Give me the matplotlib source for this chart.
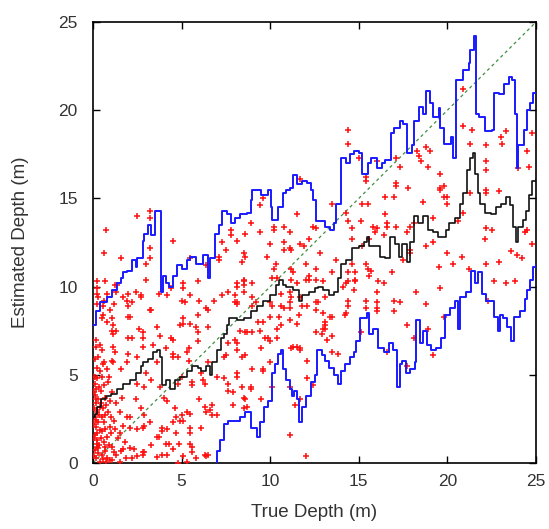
import matplotlib
matplotlib.use('Agg')
import matplotlib.pyplot as plt

# --- step curves (x, y) ---
upper_x = [0, 0.15, 0.4, 0.8, 1.1, 1.35, 1.6, 1.7, 1.9, 2.2, 2.4, 2.5, 2.8, 2.9, 3.1, 3.3, 3.5, 3.84,
           3.95, 4.1, 4.3, 4.5, 4.74, 5.0, 5.3, 5.47, 5.8, 6.2, 6.5, 6.6, 6.9, 7.1, 7.3, 7.55, 7.8, 8.0,
           8.3, 8.7, 8.9, 9.0, 9.5, 9.9, 10.05, 10.1, 10.45, 10.7, 10.9, 11.1, 11.3, 11.5, 11.8, 12.1,
           12.3, 12.4, 12.6, 13.1, 13.4, 13.6, 13.7, 14.0, 14.3, 14.5, 14.7, 15.0, 15.2, 15.5, 15.7,
           16.0, 16.3, 16.5, 16.8, 17.0, 17.3, 17.5, 17.7, 18.0, 18.1, 18.4, 18.6, 18.8, 19.0, 19.2,
           19.5, 19.6, 19.8, 20.2, 20.3, 20.5, 20.9, 21.2, 21.3, 21.5, 21.6, 21.8, 22.1, 22.5, 22.6,
           22.9, 23.2, 23.45, 23.65, 23.8, 23.9, 24.0, 24.3, 24.5, 24.65, 24.85, 25.0]
upper_y = [7.8, 8.6, 9.1, 9.4, 9.8, 10.2, 10.5, 10.8, 10.9, 11.5, 11.1, 11.6, 12.6, 13.0, 13.5, 12.9, 14.3, 9.7,
           10.6, 10.2, 10.0, 10.6, 11.2, 11.0, 11.5, 11.7, 11.3, 11.8, 10.5, 11.6, 13.0, 13.5, 14.3, 14.1, 13.6, 13.9,
           14.1, 14.2, 14.9, 15.5, 15.2, 15.5, 14.5, 13.8, 14.5, 15.3, 15.5, 15.6, 16.3, 15.8, 16.0, 15.9,
           15.5, 14.9, 13.7, 13.4, 13.2, 13.6, 14.7, 17.3, 17.0, 17.5, 17.7, 17.6, 16.4, 17.0, 17.3,
           16.7, 17.0, 17.2, 18.7, 19.0, 19.4, 19.2, 17.6, 18.0, 19.4, 20.2, 19.8, 21.1, 20.4, 19.6,
           20.1, 19.0, 18.1, 18.5, 17.3, 21.7, 22.3, 22.7, 23.4, 24.2, 19.8, 19.6, 18.8, 18.9, 21.0,
           20.9, 21.5, 21.9, 21.7, 19.8, 16.7, 18.0, 18.9, 20.0, 20.4, 21.0, 21.0]

lower_x = [6.98, 7.02, 7.15, 7.4, 7.6, 8.3, 8.6, 8.9, 9.25, 9.4, 9.65, 9.9, 10.1, 10.25, 10.45, 10.6,
           10.7, 10.9, 11.1, 11.25, 11.35, 11.5, 11.65, 11.8, 12.0, 12.3, 12.5, 12.65, 12.9, 13.1, 13.3,
           13.6, 13.85, 14.0, 14.2, 14.5, 14.7, 14.85, 15.05, 15.45, 15.6, 15.8, 16.1, 16.4, 16.7,
           16.95, 17.15, 17.3, 17.45, 17.65, 17.9, 18.15, 18.25, 18.45, 18.6, 18.85, 19.1, 19.35,
           19.65, 19.85, 20.15, 20.45, 20.6, 20.7, 21.05, 21.35, 21.55, 21.7, 21.95, 22.15, 22.6,
           22.85, 22.95, 23.15, 23.35, 23.6, 23.75, 24.1, 24.35, 24.5, 24.65, 24.85, 25.0]
lower_y = [0.0, 0.7, 1.3, 2.2, 2.4, 2.6, 2.9, 2.0, 1.5, 2.3, 3.2, 3.5, 5.1, 5.6, 6.2, 6.4,
           5.3, 4.7, 4.2, 3.8, 4.1, 3.6, 2.3, 3.2, 3.8, 4.6, 5.0, 6.4, 6.1, 5.8, 5.4,
           5.0, 4.5, 5.2, 5.6, 6.0, 6.3, 6.9, 8.2, 8.5, 7.3, 7.6, 6.5, 6.3, 6.8,
           6.4, 4.3, 5.6, 5.8, 5.1, 5.3, 5.7, 8.1, 6.8, 7.5, 6.7, 6.4, 6.5,
           7.1, 8.4, 8.8, 9.2, 7.6, 9.4, 9.7, 10.9, 10.2, 10.8, 9.6, 9.2, 8.3,
           7.5, 8.4, 8.2, 7.7, 6.9, 8.3, 8.6, 9.3, 9.8, 10.4, 11.1, 11.2]

median_x = [0.0, 0.1, 0.2, 0.45, 0.75, 1.0, 1.35, 1.7, 2.1, 2.4, 2.7, 2.8, 3.1, 3.4, 3.6, 3.8, 3.9,
            4.1, 4.35, 4.6, 4.9, 5.3, 5.6, 5.9, 6.1, 6.4, 6.6, 6.7, 7.0, 7.2, 7.4, 7.55, 7.7, 8.1,
            8.5, 8.9, 9.25, 9.6, 10.0, 10.3, 10.5, 10.7, 10.9, 11.3, 11.6, 11.8, 12.2, 12.5, 12.7,
            13.0, 13.3, 13.6, 13.8, 14.0, 14.3, 14.6, 15.0, 15.3, 15.45, 15.6, 16.0, 16.2, 16.5,
            16.75, 17.05, 17.25, 17.45, 17.7, 17.9, 18.1, 18.35, 18.6, 18.9, 19.2, 19.45, 19.9,
            20.1, 20.4, 20.7, 20.9, 21.1, 21.3, 21.45, 21.55, 21.7, 21.85, 22.1, 22.45, 22.75,
            23.0, 23.3, 23.55, 23.7, 23.85, 24.0, 24.25, 24.45, 24.6, 24.75, 25.0]
median_y = [2.6, 2.8, 3.2, 3.6, 3.8, 3.9, 4.2, 4.5, 4.7, 5.1, 5.5, 5.7, 5.9, 6.3, 6.4, 6.0, 4.4,
            4.7, 4.2, 4.7, 4.9, 5.2, 5.5, 5.4, 5.2, 5.5, 5.0, 5.7, 6.4, 7.1, 7.3, 7.8, 8.2, 8.1,
            8.2, 8.6, 8.9, 9.2, 9.5, 10.1, 10.4, 10.1, 10.0, 9.8, 9.2, 9.5, 9.7, 9.9, 10.0,
            9.8, 9.5, 9.7, 10.5, 11.3, 11.5, 12.2, 12.3, 12.5, 12.8, 12.3, 12.3, 11.7, 11.6,
            12.8, 12.4, 11.7, 12.4, 11.4, 12.5, 14.0, 13.6, 14.0, 13.2, 13.1, 12.8, 13.2,
            13.6, 13.9, 14.7, 15.3, 16.6, 17.3, 17.6, 16.4, 15.3, 14.7, 14.2, 14.1, 14.5,
            14.7, 15.1, 14.6, 13.4, 12.5, 13.4, 13.8, 14.3, 15.2, 16.0, 16.1]

# --- individual estimates (red crosses), grouped by region ---
near_origin = [
    (0.11, 4.5), (0.17, 4.2), (0.11, 3.85), (0.3, 3.65), (0.17, 3.4), (0.4, 3.2), (0.21, 2.9),
    (0.11, 2.6), (0.3, 2.35), (0.17, 2.05), (0.4, 1.87), (0.11, 1.6), (0.21, 1.3), (0.36, 1.0),
    (0.11, 0.74), (0.3, 0.55), (0.17, 0.27), (0.4, 0.07), (0.6, 4.4), (0.7, 3.7), (0.55, 3.1),
    (0.85, 2.9), (0.64, 2.35), (0.94, 2.05), (0.5, 1.8), (0.8, 1.5), (0.6, 1.2), (0.9, 1.0),
    (0.7, 0.7), (0.5, 0.45), (0.8, 0.3), (0.94, 0.15), (0.75, 0.05), (1.1, 4.0), (1.3, 3.4),
    (1.5, 2.9), (1.2, 2.4), (1.7, 2.1), (1.0, 1.7), (1.4, 1.4), (1.8, 1.2), (1.1, 0.9),
    (1.6, 0.7), (1.3, 0.45), (1.88, 0.3), (1.1, 0.15), (1.5, 0.05), (0.05, 4.9), (0.05, 4.0),
    (0.05, 3.1), (0.05, 2.2), (0.05, 1.4), (0.05, 0.4), (0.25, 4.8), (0.45, 4.1), (0.25, 3.0),
    (0.5, 2.6), (0.25, 1.7), (0.45, 1.4), (0.25, 0.9), (0.55, 0.2), (0.35, 2.7), (0.65, 2.7),
    (0.75, 3.3), (0.35, 4.3), (0.95, 3.5), (0.15, 3.6), (0.2, 1.1), (0.65, 0.9), (1.0, 2.6),
    (1.25, 1.9), (1.65, 3.7), (1.9, 2.6), (2.1, 2.0), (1.2, 0.6), (0.85, 4.6), (0.55, 5.6),
    (0.12, 5.9), (0.3, 0.85), (0.15, 2.45), (0.45, 3.4), (0.7, 1.95), (1.55, 1.7), (2.2, 0.3),
]
low_points = [
    (2.4, 3.6), (2.7, 3.1), (2.1, 2.6), (2.9, 2.7), (3.2, 2.3), (2.5, 1.9), (3.6, 1.5), (2.1, 0.85),
    (2.8, 0.6), (3.6, 0.35), (4.1, 1.1), (4.2, 1.9), (4.7, 1.7), (5.0, 2.7), (5.1, 2.4), (4.5, 2.3),
    (5.5, 1.1), (5.6, 0.6), (6.3, 0.45), (5.3, 0.05), (6.1, 2.0), (3.3, 1.0), (4.5, 0.8), (4.85, 1.1),
    (5.1, 0.4), (5.8, 0.3), (6.4, 0.4), (4.8, 0.0), (2.8, 0.45), (2.5, 0.4), (1.7, 0.8), (2.3, 0.8),
    (5.5, 2.8), (4.7, 2.6), (4.9, 2.4), (6.3, 3.2), (6.6, 3.0), (7.0, 2.7), (5.5, 2.0), (5.5, 1.7),
    (3.9, 2.0), (3.9, 1.8), (2.8, 2.0), (2.9, 2.1), (3.7, 1.5), (4.3, 1.1), (5.6, 0.9), (4.2, 0.45),
    (3.9, 0.45), (6.5, 0.45), (2.9, 0.6), (11.1, 1.6), (12.0, 0.4), (6.7, 3.3), (6.7, 2.7), (6.4, 2.9),
    (6.0, 3.6), (5.6, 4.6), (5.6, 4.4), (5.0, 4.9), (4.8, 4.5), (4.0, 3.7), (4.2, 3.5), (4.6, 3.1),
    (5.3, 2.9), (3.3, 4.7), (3.8, 4.3), (2.9, 4.3), (2.5, 4.5), (7.9, 3.3), (7.6, 4.1), (7.0, 4.9),
    (6.3, 4.5), (7.4, 4.8), (7.6, 4.5), (8.9, 4.3), (7.9, 4.0), (8.4, 4.3), (8.5, 3.7), (9.6, 5.3),
    (10.1, 4.3), (11.1, 4.3), (12.1, 4.8), (12.4, 4.4), (11.4, 3.3), (8.9, 4.2), (8.6, 3.6), (9.5, 3.6),
    (8.7, 3.2), (8.5, 3.1), (11.7, 3.6),
]
mid_points = [
    (0.6, 9.2), (0.55, 8.9), (0.95, 8.7), (0.55, 8.4), (0.5, 8.2), (0.8, 8.0), (1.1, 8.2), (1.15, 7.8),
    (1.1, 7.5), (1.3, 7.5), (1.15, 7.3), (2.0, 8.3), (2.2, 7.1), (2.6, 7.6), (3.3, 8.7), (3.6, 7.7),
    (4.4, 7.1), (4.5, 7.0), (3.8, 7.2), (5.1, 8.2), (5.1, 7.9), (5.0, 9.2), (5.8, 7.7), (5.9, 7.4),
    (5.9, 6.9), (5.3, 6.3), (6.5, 8.7), (6.5, 7.7), (6.0, 9.2), (2.0, 7.1), (0.17, 7.0), (0.17, 6.6),
    (0.4, 6.7), (0.5, 6.4), (0.3, 6.0), (0.6, 5.7), (0.2, 5.4), (0.4, 5.2), (0.5, 4.9), (0.1, 4.9),
    (0.8, 5.3), (0.9, 4.9), (1.15, 6.6), (1.25, 6.3), (1.1, 5.8), (1.15, 5.7), (1.6, 5.3), (1.9, 5.7),
    (2.0, 6.2), (2.5, 6.0), (2.8, 6.6), (3.4, 6.7), (4.1, 6.5), (4.5, 6.2), (4.5, 6.0), (4.8, 6.0),
    (3.6, 5.7), (3.0, 5.1), (5.4, 6.5), (5.4, 5.8), (6.5, 5.7), (6.1, 5.1), (6.2, 4.7), (7.4, 6.0),
    (7.5, 6.1), (8.1, 6.4), (8.1, 5.1), (8.1, 4.9), (9.7, 7.1), (8.0, 7.0), (8.7, 7.4), (9.4, 7.5),
    (10.4, 7.1), (11.3, 6.6), (12.6, 7.4), (2.8, 7.4), (2.8, 7.1), (2.1, 8.3), (4.9, 7.8), (5.5, 7.9),
    (5.9, 8.4), (7.6, 6.8), (8.1, 6.8), (9.0, 8.9), (9.2, 9.1), (11.1, 9.1), (11.1, 8.8), (12.7, 9.1),
    (13.4, 8.3), (14.2, 8.4), (15.4, 8.8), (10.0, 8.3), (10.5, 8.3), (9.3, 8.0), (9.6, 8.0),
    (10.6, 7.8), (10.4, 7.6), (11.1, 8.1), (11.5, 7.9), (11.6, 8.4), (8.3, 7.5), (8.6, 7.4),
    (9.0, 7.4), (13.1, 8.0), (13.1, 7.6), (9.9, 7.1), (10.0, 6.9), (9.5, 6.5), (8.4, 6.0), (8.6, 6.1),
    (11.2, 6.5), (11.5, 6.6), (11.7, 6.4), (10.0, 5.7), (9.0, 5.3), (9.6, 5.2), (15.1, 7.4),
    (11.7, 9.4), (11.8, 8.9), (12.1, 8.9), (12.6, 9.1), (12.6, 8.7), (13.0, 8.5), (14.4, 9.2),
    (14.4, 8.9), (14.3, 8.5), (15.4, 9.2), (16.0, 9.1), (16.0, 8.8), (16.0, 8.6), (13.1, 7.8),
    (13.0, 7.6), (13.5, 8.3), (12.9, 7.3), (13.5, 7.2), (13.2, 7.0), (13.5, 6.3), (13.8, 6.2),
    (11.7, 6.5), (12.1, 5.8), (0.2, 10.3), (1.25, 10.1), (1.3, 9.7), (1.7, 9.4), (2.0, 9.6),
    (2.4, 9.7), (2.7, 9.5), (2.7, 9.4), (1.9, 9.2), (2.2, 9.1), (2.0, 8.9), (1.2, 9.0), (4.2, 9.5),
    (5.1, 10.2), (5.1, 9.9), (5.2, 9.1), (6.8, 9.2), (7.3, 9.5), (7.6, 9.7), (8.1, 9.1), (6.4, 8.8),
    (3.2, 8.7), (0.3, 9.4), (0.2, 9.0), (3.7, 9.6), (4.4, 9.9), (5.5, 9.5), (8.0, 9.5), (8.0, 9.1),
    (8.1, 9.0), (10.1, 8.9), (10.6, 8.9), (10.8, 8.8), (0.2, 9.9), (0.2, 9.6), (0.8, 9.6),
]
high_points = [
    (0.73, 13.2), (2.5, 14.0), (3.2, 14.3), (3.2, 13.9), (9.4, 14.6), (9.6, 15.0), (8.9, 13.6),
    (7.8, 13.2), (7.8, 12.9), (9.4, 13.1), (10.2, 13.4), (10.2, 13.2), (10.8, 13.4), (11.1, 13.1),
    (11.5, 14.1), (11.7, 16.1), (12.4, 13.4), (12.6, 13.3), (12.2, 12.7), (8.6, 13.0),
    (0.6, 11.9), (4.5, 12.6), (3.2, 12.2), (1.6, 11.6), (3.2, 11.6), (3.0, 11.3), (7.3, 12.5),
    (7.5, 12.1), (8.1, 12.6), (7.1, 11.7), (7.1, 11.5), (5.5, 11.6), (0.7, 10.3), (3.0, 10.4),
    (5.9, 10.3), (6.4, 11.2), (8.1, 10.2), (8.1, 10.0), (1.35, 10.1), (8.5, 11.9), (8.4, 11.4),
    (10.0, 12.4), (10.8, 12.5), (11.1, 12.2), (8.5, 10.3), (9.0, 10.2), (11.2, 10.4), (11.5, 10.2),
    (12.2, 10.4), (8.6, 11.7), (9.8, 11.7), (10.8, 12.1), (11.2, 12.1), (11.7, 12.4), (10.3, 11.3),
    (10.2, 11.0), (10.4, 10.5), (11.2, 11.0), (11.3, 10.8), (12.2, 10.6), (13.7, 11.5), (14.6, 11.3),
    (15.7, 10.9), (8.5, 10.4), (8.5, 10.1), (8.5, 9.7), (10.1, 10.5), (12.0, 10.4), (12.6, 10.4),
    (13.0, 10.3), (14.3, 10.2), (14.8, 10.3), (11.2, 9.4), (13.1, 9.4), (10.6, 9.6), (10.0, 9.1),
    (9.0, 9.4), (11.1, 9.7),
    (11.9, 12.3), (12.8, 11.9), (12.0, 11.3), (12.6, 11.0), (14.6, 12.7), (15.6, 12.7), (15.2, 12.3),
    (13.5, 10.8), (14.4, 10.8), (14.8, 10.8), (14.8, 10.4), (14.4, 10.3), (15.5, 11.0), (15.6, 10.6),
    (15.4, 11.3), (16.1, 10.3), (16.4, 10.2), (14.1, 10.0), (14.7, 9.8), (16.0, 9.7), (14.3, 14.2),
    (15.4, 16.2), (15.8, 13.4), (15.9, 13.1), (16.4, 12.9),
    (14.4, 18.9), (14.4, 18.1), (15.0, 17.3), (16.0, 17.1), (15.4, 16.0), (17.1, 17.3), (17.1, 15.9),
    (17.1, 15.7), (18.3, 17.7), (18.5, 17.1), (18.8, 17.9), (19.0, 17.7), (18.9, 16.8), (19.6, 16.4),
    (20.9, 21.2), (20.9, 19.1), (21.4, 18.9), (21.3, 18.1), (22.2, 18.0), (23.3, 18.8), (23.0, 18.5),
    (23.1, 18.1), (24.8, 18.7), (24.5, 17.7), (24.6, 16.8), (24.0, 16.7), (22.2, 17.1), (22.2, 16.6),
    (22.2, 15.5), (22.2, 15.3), (22.9, 15.4), (21.3, 15.3), (19.8, 15.7), (19.8, 15.1), (20.0, 15.1),
    (20.0, 14.7), (19.6, 15.5), (18.6, 14.8), (20.9, 14.2), (20.6, 13.7), (16.5, 15.1), (17.0, 15.1),
    (13.5, 14.7), (15.2, 14.7), (15.5, 14.7), (16.5, 14.1), (14.4, 13.7), (15.1, 13.7), (14.6, 13.3),
    (16.0, 13.3), (16.6, 13.6), (16.6, 13.4), (17.9, 13.4), (19.2, 13.9), (22.2, 13.3), (22.5, 13.2),
    (24.5, 13.2), (17.3, 16.8), (18.4, 17.4), (17.8, 15.6), (19.6, 15.6),
    (18.1, 13.6), (17.7, 13.1), (17.1, 13.4), (22.1, 12.7), (18.8, 12.3), (19.2, 12.5), (17.9, 12.1),
    (17.9, 11.9), (17.5, 11.5), (20.0, 11.9), (20.3, 11.3), (20.8, 11.7), (16.9, 10.8), (19.5, 11.1),
    (21.2, 11.0), (22.2, 11.3), (22.9, 11.4), (23.6, 12.0), (23.9, 11.8), (24.2, 11.6), (24.8, 12.4),
    (24.4, 13.1), (22.6, 10.3), (23.3, 10.2), (23.8, 10.3), (19.6, 9.9), (18.2, 9.7), (17.0, 9.2),
    (17.3, 9.1), (18.8, 9.0), (19.8, 8.3), (22.3, 9.2), (17.7, 7.8), (18.1, 7.1), (18.9, 7.6),
    (17.0, 8.6), (16.6, 6.3), (17.7, 5.5), (19.2, 6.1),
]

points = near_origin + low_points + mid_points + high_points
true_depth = [p[0] for p in points]
est_depth = [p[1] for p in points]

plt.rcParams['font.family'] = ['Liberation Sans', 'DejaVu Sans']

fig = plt.figure(figsize=(5.49, 5.29), dpi=100)
ax = fig.add_axes([0.1694, 0.1248, 0.807, 0.8336])

ax.plot([0, 25], [0, 25], color='#3f8f3f', linestyle=(0, (2.5, 2.5)), linewidth=0.9, zorder=2)
ax.scatter(true_depth, est_depth, marker='+', s=14, linewidths=1.1, color='#ff1010', zorder=3)
ax.plot(upper_x, upper_y, drawstyle='steps-post', color='#1a1aff', linewidth=1.4, zorder=4)
ax.plot(lower_x, lower_y, drawstyle='steps-post', color='#1a1aff', linewidth=1.4, zorder=4)
ax.plot(median_x, median_y, drawstyle='steps-post', color='#111111', linewidth=1.2, zorder=5)

ax.set_xlim(0, 25)
ax.set_ylim(0, 25)
ax.set_xticks([0, 5, 10, 15, 20, 25])
ax.set_yticks([0, 5, 10, 15, 20, 25])
ax.tick_params(direction='in', length=5, width=1, top=True, right=True,
               labelsize=12.5, labelcolor='#333333')
ax.tick_params(axis='x', pad=8)
ax.tick_params(axis='y', pad=11)
for s in ax.spines.values():
    s.set_linewidth(1.2)
ax.set_xlabel('True Depth (m)', fontsize=13.5, color='#333333', labelpad=11)
ax.set_ylabel('Estimated Depth (m)', fontsize=13.5, color='#333333', labelpad=21)

fig.savefig('out.png', dpi=100)
